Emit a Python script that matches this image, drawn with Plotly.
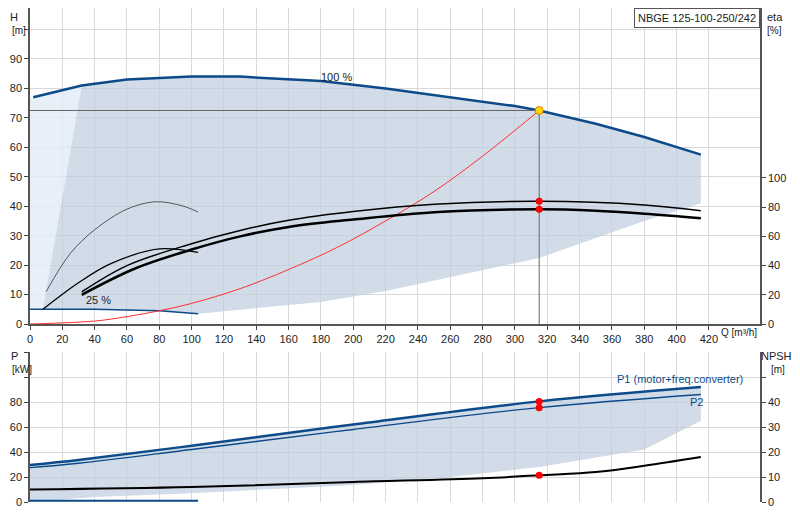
import plotly.graph_objects as go

q100 = [2, 32, 60, 100, 130, 180, 220, 260, 300, 315, 350, 380, 415]
h100 = [77, 81, 83, 84, 84, 82.5, 80, 77, 74, 72.5, 68, 63.5, 57.5]
q_low = [415, 380, 315, 260, 220, 180, 160, 104]
h_low = [41, 35, 22.4, 16, 11.2, 7.5, 6.5, 3.5]
q25 = [8, 40, 80, 104]
h25 = [5, 5, 4.5, 3.5]
q_sys = [0, 40, 60, 80, 100, 130, 160, 190, 220, 250, 280, 315]
h_sys = [0, 1, 2.5, 4.5, 7, 12, 18.5, 26, 35, 45, 57, 72.5]
q_op, h_op = 315, 72.5
q_e1 = [32, 60, 100, 130, 160, 200, 250, 315, 380, 415]
eta1 = [22, 40, 55, 64, 71, 77, 82, 84, 81.5, 77.5]
q_e2 = [32, 65, 100, 130, 160, 200, 250, 315, 350, 380, 415]
eta2 = [20, 38, 51, 60, 66.5, 71.5, 76.5, 78.5, 77.5, 75.5, 72.5]
q_h25 = [8, 30, 50, 80, 104]
h_h25 = [5, 14, 20.5, 25.5, 24.3]
q_hmin = [10, 25, 40, 60, 78, 95, 104]
h_hmin = [11, 24, 32, 39, 41.5, 40, 38]
q_p = [0, 30, 100, 200, 315, 415]
p1 = [29.6, 33.6, 45, 62, 80.5, 92]
p2 = [27.5, 31, 42, 58, 75.5, 86]
q_plow = [415, 380, 315, 260, 200, 100, 40, 18, 0]
p_low = [65, 42, 28, 20, 13.6, 7, 4, 2, 0]
q_npsh = [0, 100, 200, 280, 315, 350, 380, 415]
npsh = [5, 6, 8, 9.5, 10.7, 12, 14.5, 18]
q_p25 = [0, 104]
p25 = [1, 1]

BLUE = "#0d4a8a"
FILL = "rgba(190,205,222,0.7)"
fig = go.Figure()
fig.add_trace(go.Scatter(x=[0, 8, 32, 2, 0], y=[5, 5, 81, 77, 77], fill="toself",
                         fillcolor="rgba(225,236,248,0.8)", line=dict(width=0), mode="lines", hoverinfo="skip"))
px = q100[1:] + q_low + q25[::-1] + [32]
py = h100[1:] + h_low + h25[::-1] + [81]
fig.add_trace(go.Scatter(x=px, y=py, fill="toself", fillcolor=FILL, line=dict(width=0), mode="lines"))
fig.add_trace(go.Scatter(x=q100, y=h100, mode="lines", line=dict(color=BLUE, width=2.5)))
fig.add_trace(go.Scatter(x=[0, 8] + q25[1:], y=[5, 5] + h25[1:], mode="lines", line=dict(color=BLUE, width=1.5)))
fig.add_trace(go.Scatter(x=[0, q_op], y=[h_op, h_op], mode="lines", line=dict(color="#666", width=1)))
fig.add_trace(go.Scatter(x=[q_op, q_op], y=[0, h_op], mode="lines", line=dict(color="#666", width=1)))
fig.add_trace(go.Scatter(x=q_sys, y=h_sys, mode="lines", line=dict(color="#ff3030", width=1, shape="spline")))
fig.add_trace(go.Scatter(x=q_h25, y=h_h25, mode="lines", line=dict(color="black", width=1.3, shape="spline")))
fig.add_trace(go.Scatter(x=q_hmin, y=h_hmin, mode="lines", line=dict(color="#333", width=0.8, shape="spline")))
fig.add_trace(go.Scatter(x=q_e1, y=eta1, yaxis="y3", mode="lines", line=dict(color="black", width=1.5, shape="spline")))
fig.add_trace(go.Scatter(x=q_e2, y=eta2, yaxis="y3", mode="lines", line=dict(color="black", width=2.5, shape="spline")))
fig.add_trace(go.Scatter(x=[q_op, q_op], y=[84, 78.5], yaxis="y3", mode="markers", marker=dict(color="red", size=7)))
fig.add_trace(go.Scatter(x=[q_op], y=[h_op], mode="markers", marker=dict(color="#ffd700", size=8, line=dict(color="#d08000", width=1))))

fig.add_trace(go.Scatter(x=q_p + q_plow, y=p1 + p_low, xaxis="x2", yaxis="y2", fill="toself", fillcolor=FILL,
                         line=dict(width=0), mode="lines"))
fig.add_trace(go.Scatter(x=q_p, y=p1, xaxis="x2", yaxis="y2", mode="lines", line=dict(color=BLUE, width=2.5, shape="spline")))
fig.add_trace(go.Scatter(x=q_p, y=p2, xaxis="x2", yaxis="y2", mode="lines", line=dict(color=BLUE, width=1.3, shape="spline")))
fig.add_trace(go.Scatter(x=q_p25, y=p25, xaxis="x2", yaxis="y2", mode="lines", line=dict(color=BLUE, width=2)))
fig.add_trace(go.Scatter(x=q_npsh, y=npsh, xaxis="x2", yaxis="y4", mode="lines", line=dict(color="black", width=2, shape="spline")))
fig.add_trace(go.Scatter(x=[q_op, q_op], y=[80.5, 75.5], xaxis="x2", yaxis="y2", mode="markers", marker=dict(color="red", size=7)))
fig.add_trace(go.Scatter(x=[q_op], y=[10.7], xaxis="x2", yaxis="y4", mode="markers", marker=dict(color="red", size=7)))

grid = "#d9d9d9"
fnt = dict(family="Liberation Sans, Arial", size=11, color="#222")
ticks = list(range(0, 421, 20))
XD = [22 / 800, 752 / 800]
fig.update_layout(
    width=800, height=520, margin=dict(l=0, r=0, t=0, b=0), showlegend=False,
    plot_bgcolor="white", paper_bgcolor="white", font=fnt,
    xaxis=dict(domain=XD, range=[0, 451.6], tickvals=ticks, ticks="outside", ticklen=4, automargin=False,
               showgrid=True, gridcolor=grid, showline=True, linecolor="#555", linewidth=2, zeroline=False, anchor="y"),
    yaxis=dict(domain=[1 - 316 / 520, 1], range=[0, 107.3], tickvals=list(range(0, 101, 10)), automargin=False,
               ticktext=[str(v) for v in range(0, 91, 10)] + [""], ticks="outside", ticklen=4,
               showgrid=True, gridcolor=grid, showline=True, linecolor="#555", linewidth=1.5, zeroline=False),
    yaxis3=dict(overlaying="y", side="right", range=[0, 216.4], tickvals=list(range(0, 101, 20)), ticks="outside",
                ticklen=4, showgrid=False, showline=True, linecolor="#555", linewidth=1.5, anchor="x", zeroline=False,
                automargin=False),
    xaxis2=dict(domain=XD, range=[0, 451.6], tickvals=ticks, showticklabels=False, showgrid=True,
                gridcolor=grid, showline=False, zeroline=False, anchor="y2", automargin=False),
    yaxis2=dict(domain=[1 - 494 / 520, 1 - 344 / 520], range=[0, 120], tickvals=list(range(0, 121, 20)), automargin=False,
                ticktext=[str(v) for v in range(0, 81, 20)] + ["", ""], ticks="outside", ticklen=4,
                showgrid=True, gridcolor=grid, showline=True, linecolor="#555", linewidth=1.5, zeroline=False, anchor="x2"),
    yaxis4=dict(overlaying="y2", side="right", range=[0, 60], tickvals=list(range(0, 51, 10)), automargin=False,
                ticktext=[str(v) for v in range(0, 41, 10)] + [""], ticks="outside", ticklen=4,
                showgrid=False, showline=True, linecolor="#555", linewidth=1.5, anchor="x2", zeroline=False),
)
ann = [
    (14, 9, "H", 11, "#222", "center", "top"), (10, 31, "[m]", 10, "#222", "left", "middle"),
    (775, 9, "eta", 11, "#222", "center", "top"), (774, 31, "[%]", 10, "#222", "center", "middle"),
    (14, 356, "P", 11, "#222", "center", "middle"), (10, 369, "[kW]", 10, "#222", "left", "middle"),
    (776, 356, "NPSH", 11, "#222", "center", "middle"), (778, 369, "[m]", 10, "#222", "center", "middle"),
    (719, 332, "Q [m³/h]", 10, "#222", "left", "middle"),
    (336, 77, "100 %", 11, "#222", "center", "middle"),
    (98, 300, "25 %", 11, "#222", "center", "middle"),
    (680, 379, "P1 (motor+freq.converter)", 11, BLUE, "center", "middle"),
    (696, 402, "P2", 11, BLUE, "center", "middle"),
]
for x, y, t, s, c, xa, ya in ann:
    fig.add_annotation(x=(x - 8) / 800, y=min(1, 1 - (y - 8) / 520), xref="paper", yref="paper", text=t,
                       showarrow=False, xanchor=xa, yanchor=ya,
                       font=dict(family="Liberation Sans, Arial", color=c, size=s))
fig.add_annotation(x=752 / 800, y=1, xref="paper", yref="paper", text="NBGE 125-100-250/242", showarrow=False,
                   xanchor="right", yanchor="top", bordercolor="#555", borderwidth=1, borderpad=3, bgcolor="white",
                   font=dict(family="Liberation Sans, Arial", size=11, color="#222"))
fig.write_html("out.html")
